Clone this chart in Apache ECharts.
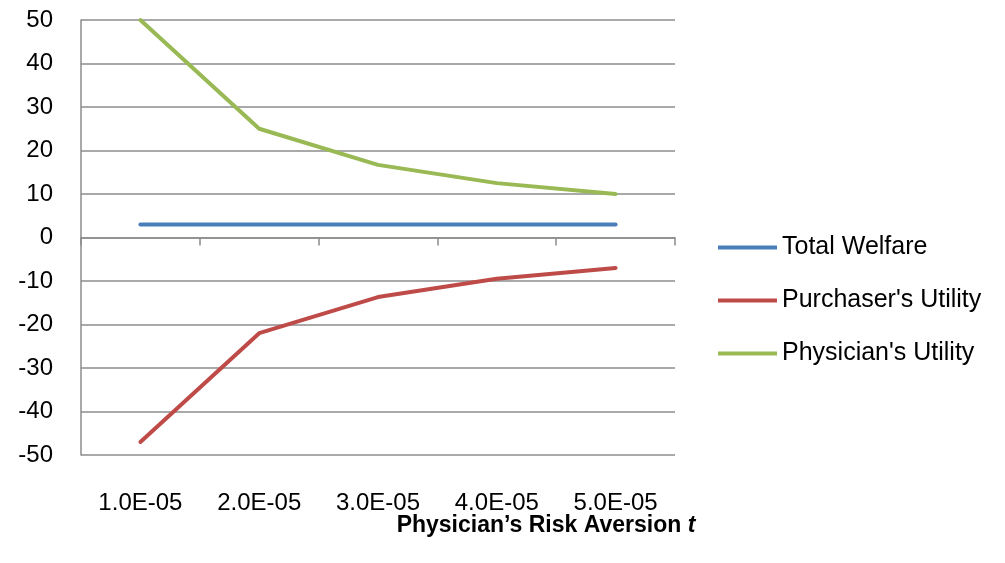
<!DOCTYPE html>
<html>
<head>
<meta charset="utf-8">
<script src="https://cdn.jsdelivr.net/npm/echarts@6/dist/echarts.min.js"></script>
<style>
  html, body { margin: 0; padding: 0; background: #fff; }
  #chart { width: 1005px; height: 563px; }
</style>
</head>
<body>
<div id="chart"></div>
<script>
// Risk aversion levels on the category axis
const categories = ['1.0E-05', '2.0E-05', '3.0E-05', '4.0E-05', '5.0E-05'];

// Utilities for each level of physician risk aversion
const totalWelfare = [3, 3, 3, 3, 3];
const purchaserUtility = [-47, -22, -13.7, -9.5, -7];
const physicianUtility = [50, 25, 16.7, 12.5, 10];

const seriesNames = ['Total Welfare', "Purchaser's Utility", "Physician's Utility"];
const seriesColors = ['#4A7EBB', '#BE4B48', '#98B954'];

const FONT = '"Liberation Sans", Arial, sans-serif';
const GRID_COLOR = '#8c8c8c';
const TEXT_COLOR = '#000';

const chart = echarts.init(document.getElementById('chart'), null, { renderer: 'canvas' });

function lineSeries(name, data, color) {
  return {
    name: name,
    type: 'line',
    data: data,
    xAxisIndex: 0,
    symbol: 'none',
    showSymbol: false,
    clip: false,
    lineStyle: { width: 4, color: color, cap: 'round', join: 'round' },
    itemStyle: { color: color },
    emphasis: { disabled: true },
    z: 3
  };
}

chart.setOption({
  animation: false,
  backgroundColor: '#ffffff',
  grid: { left: 81, right: 330, top: 20, bottom: 108, containLabel: false },
  legend: {
    orient: 'vertical',
    left: 718,
    top: 235,
    icon: 'rect',
    itemWidth: 59,
    itemHeight: 4,
    itemGap: 28,
    selectedMode: false,
    data: seriesNames,
    textStyle: { fontFamily: FONT, fontSize: 25, color: TEXT_COLOR },
    padding: 0
  },
  xAxis: [
    {
      // axis line through zero with boundary ticks
      type: 'category',
      data: categories,
      boundaryGap: true,
      axisLine: { show: true, onZero: true, lineStyle: { color: GRID_COLOR, width: 1.5 } },
      axisTick: { show: true, length: 8, inside: false, lineStyle: { color: GRID_COLOR, width: 1.5 } },
      axisLabel: { show: false },
      splitLine: { show: false }
    },
    {
      // category labels along the bottom of the plot
      type: 'category',
      data: categories,
      position: 'bottom',
      boundaryGap: true,
      axisLine: { show: false, onZero: false },
      axisTick: { show: false },
      axisLabel: { show: true, margin: 36, fontFamily: FONT, fontSize: 24, color: TEXT_COLOR },
      splitLine: { show: false }
    }
  ],
  yAxis: {
    type: 'value',
    min: -50,
    max: 50,
    interval: 10,
    axisLine: { show: true, lineStyle: { color: GRID_COLOR, width: 1.5 } },
    axisTick: { show: false },
    axisLabel: { margin: 28, fontFamily: FONT, fontSize: 24, color: TEXT_COLOR },
    splitLine: { show: true, lineStyle: { color: GRID_COLOR, width: 1.5 } }
  },
  graphic: [
    {
      // horizontal axis title
      type: 'text',
      x: 546,
      y: 526,
      style: {
        text: '{b|Physician\u2019s Risk Aversion }{i|t}',
        align: 'center',
        verticalAlign: 'middle',
        rich: {
          b: { fontFamily: FONT, fontSize: 23, fontWeight: 'bold', fill: TEXT_COLOR },
          i: { fontFamily: FONT, fontSize: 23, fontWeight: 'bold', fontStyle: 'italic', fill: TEXT_COLOR }
        }
      }
    }
  ],
  series: [
    lineSeries(seriesNames[0], totalWelfare, seriesColors[0]),
    lineSeries(seriesNames[1], purchaserUtility, seriesColors[1]),
    lineSeries(seriesNames[2], physicianUtility, seriesColors[2])
  ]
});
</script>
</body>
</html>
